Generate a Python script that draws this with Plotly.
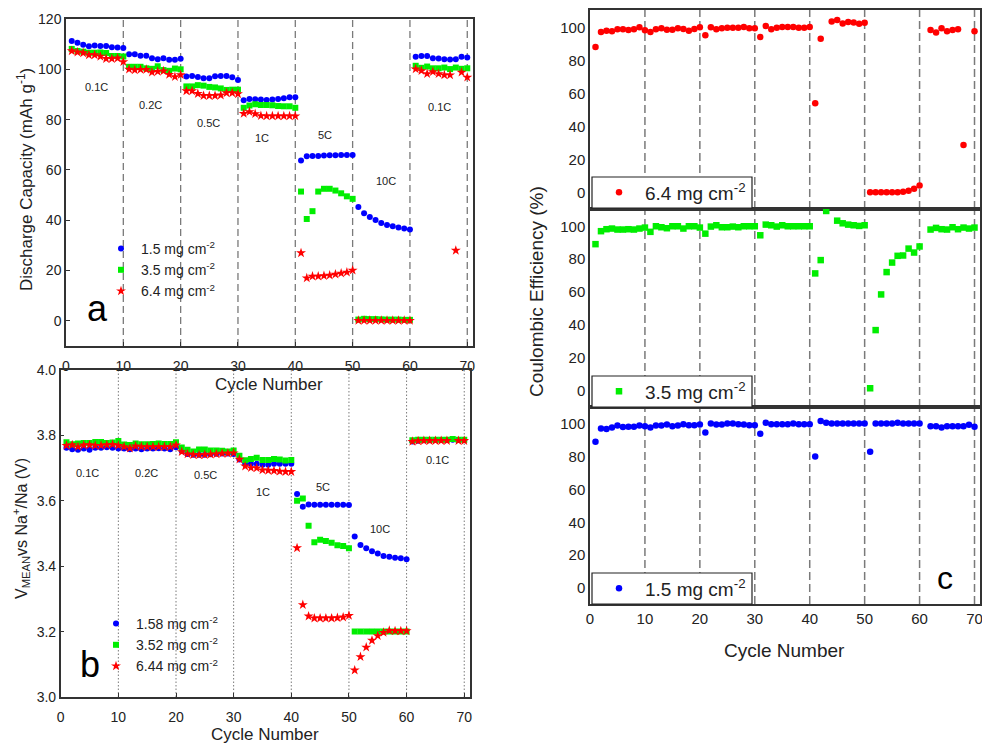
import plotly.graph_objects as go

cycles = list(range(1, 71))
boundaries = [10, 20, 30, 40, 50, 60, 70]
rate_labels = ["0.1C", "0.2C", "0.5C", "1C", "5C", "10C", "0.1C"]

# Panel a: discharge capacity (mAh g-1)
cap_15 = [111.3,110.6,109.8,109.2,109.5,109.3,109.3,108.8,108.7,108.5,
          106.0,106.0,105.4,105.4,104.4,104.0,104.4,103.8,103.8,104.2,
          97.1,97.3,96.9,96.4,96.4,97.2,97.3,97.3,96.8,95.7,
          87.7,88.2,88.1,88.0,87.8,88.0,88.2,88.5,88.9,88.9,
          63.7,65.4,65.5,65.5,65.7,65.8,65.8,65.9,65.9,65.9,
          45.3,42.8,41.3,40.1,38.9,38.1,37.6,37.1,36.7,36.3,
          105.0,105.3,105.3,104.4,104.3,104.0,103.9,104.0,105.0,104.7]
cap_35 = [108.1,107.3,107.0,106.6,106.6,106.7,106.5,105.3,105.3,105.1,
          101.0,101.0,101.0,100.4,100.2,101.2,99.7,99.4,100.3,100.0,
          93.2,93.2,93.7,93.5,93.0,92.8,92.4,91.8,91.9,91.9,
          84.7,85.6,86.1,85.8,85.8,85.7,85.4,85.3,85.3,84.7,
          51.4,40.5,43.6,51.4,52.5,52.5,51.8,50.7,49.5,48.5,
          0.5,0.8,0.7,0.7,0.6,0.5,0.5,0.5,0.4,0.4,
          101.4,100.6,101.1,100.4,100.4,100.7,100.1,100.7,100.2,100.4]
cap_64 = [107.3,106.8,106.5,105.7,105.7,105.1,104.2,104.2,104.4,103.0,
          100.0,99.7,99.9,99.9,98.8,99.1,99.3,97.9,97.0,97.8,
          91.4,91.4,90.3,89.5,89.5,89.5,89.7,90.6,90.6,90.2,
          82.4,83.1,82.3,81.5,81.4,81.4,81.4,81.4,81.4,81.4,
          27.0,17.0,17.7,17.7,17.9,18.1,18.5,18.9,19.3,20.1,
          0.1,0.1,0.1,0.1,0.1,0.1,0.1,0.1,0.1,0.1,
          100.1,99.4,98.2,99.0,98.2,97.7,97.7,28.0,98.8,96.8]

# Panel b: mean voltage (V)
v_158 = [3.762,3.758,3.756,3.760,3.756,3.762,3.762,3.764,3.762,3.760,
         3.760,3.758,3.760,3.758,3.760,3.760,3.761,3.760,3.758,3.764,
         3.752,3.743,3.741,3.741,3.741,3.742,3.744,3.745,3.745,3.743,
         3.726,3.713,3.713,3.713,3.710,3.710,3.713,3.713,3.713,3.713,
         3.621,3.582,3.589,3.588,3.588,3.588,3.588,3.588,3.588,3.587,
         3.491,3.465,3.455,3.446,3.439,3.431,3.429,3.426,3.424,3.421,
         3.781,3.784,3.785,3.785,3.786,3.786,3.786,3.787,3.786,3.786]
v_352 = [3.779,3.773,3.775,3.777,3.777,3.780,3.780,3.777,3.778,3.783,
         3.772,3.771,3.775,3.773,3.773,3.774,3.775,3.774,3.774,3.779,
         3.763,3.756,3.751,3.757,3.757,3.754,3.754,3.753,3.751,3.754,
         3.738,3.724,3.728,3.732,3.725,3.725,3.728,3.726,3.723,3.725,
         3.600,3.607,3.524,3.473,3.481,3.477,3.472,3.464,3.462,3.455,
         3.200,3.200,3.200,3.200,3.200,3.200,3.200,3.200,3.200,3.200,
         3.785,3.787,3.787,3.787,3.787,3.787,3.787,3.789,3.787,3.787]
v_644 = [3.769,3.771,3.765,3.770,3.771,3.769,3.769,3.771,3.772,3.769,
         3.765,3.761,3.767,3.765,3.765,3.765,3.765,3.765,3.765,3.770,
         3.750,3.743,3.741,3.740,3.741,3.742,3.743,3.745,3.745,3.746,
         3.727,3.706,3.701,3.700,3.694,3.693,3.692,3.690,3.689,3.689,
         3.456,3.282,3.247,3.241,3.241,3.241,3.241,3.242,3.244,3.249,
         3.082,3.123,3.152,3.173,3.187,3.197,3.203,3.202,3.202,3.202,
         3.781,3.783,3.784,3.784,3.784,3.784,3.784,None,3.784,3.784]

# Panel c: coulombic efficiency (%)
ce_64 = [88.1,97.2,98.0,97.6,98.8,98.8,98.4,98.8,100.0,98.2,
         97.2,98.8,99.4,98.6,98.6,99.4,99.0,98.0,99.0,100.0,
         95.2,100.0,98.8,99.4,99.8,99.8,99.8,100.2,99.4,99.4,
         94.1,100.8,98.8,99.8,100.2,100.2,100.2,99.8,99.8,100.2,
         54.1,93.1,None,103.6,104.4,102.4,103.2,103.0,102.2,102.8,
         0.2,0.2,0.2,0.2,0.2,0.2,0.4,1.0,2.2,4.2,
         None,98.4,96.8,99.4,97.6,98.4,98.8,28.7,None,97.6]
ce_35 = [89.1,97.0,98.2,98.6,98.0,98.0,98.2,98.0,98.6,99.2,
         96.6,100.0,99.4,98.8,100.0,100.0,98.6,100.0,100.0,99.2,
         95.5,99.8,100.6,99.4,99.4,99.8,99.4,100.0,100.0,100.0,
         94.5,101.0,100.6,99.8,100.6,100.0,100.0,100.0,100.0,100.0,
         71.3,79.4,109.3,None,103.4,101.8,101.0,100.6,100.2,100.6,
         1.4,36.8,58.5,72.1,77.9,82.0,82.2,86.4,84.0,87.7,
         None,98.0,99.0,98.2,98.0,99.4,98.2,99.2,98.6,99.2]
ce_15 = [89.3,97.4,97.0,98.0,99.2,98.2,98.4,98.4,99.2,98.8,
         98.0,99.2,99.2,99.8,98.8,99.2,100.0,99.4,99.4,99.8,
         94.9,100.4,99.8,99.8,100.4,100.4,100.0,99.8,99.4,99.4,
         94.1,100.8,100.0,100.0,100.0,100.0,100.4,100.0,100.0,100.0,
         80.2,102.0,100.8,100.4,100.4,100.4,100.4,100.4,100.4,100.4,
         83.2,100.4,100.4,100.4,100.4,100.8,100.4,100.4,100.4,100.4,
         None,98.8,98.8,98.0,98.8,98.8,98.8,98.8,99.6,98.4]

W, H = 982, 743
FONT = "Liberation Sans, Arial, sans-serif"
BLUE, GREEN, RED = "#0000FF", "#00EE00", "#FF0000"


def px(x0, x1):
    return [x0 / W, x1 / W]


def py(top, bottom):
    return [1 - bottom / H, 1 - top / H]


fig = go.Figure()

# panel a
for name, vals, sym, col, sz in [("1.5 mg cm<sup>-2</sup>", cap_15, "circle", BLUE, 6),
                                 ("3.5 mg cm<sup>-2</sup>", cap_35, "square", GREEN, 6),
                                 ("6.4 mg cm<sup>-2</sup>", cap_64, "star", RED, 7.5)]:
    fig.add_trace(go.Scatter(x=cycles, y=vals, mode="markers", name=name,
                             marker=dict(symbol=sym, color=col, size=sz, line=dict(width=0)),
                             xaxis="x", yaxis="y", legend="legend"))
# panel b
for name, vals, sym, col, sz in [("1.58 mg cm<sup>-2</sup>", v_158, "circle", BLUE, 6),
                                 ("3.52 mg cm<sup>-2</sup>", v_352, "square", GREEN, 6),
                                 ("6.44 mg cm<sup>-2</sup>", v_644, "star", RED, 7.5)]:
    fig.add_trace(go.Scatter(x=cycles, y=vals, mode="markers", name=name,
                             marker=dict(symbol=sym, color=col, size=sz, line=dict(width=0)),
                             xaxis="x2", yaxis="y2", legend="legend2"))
# panel c
for name, vals, sym, col, ax, lg in [("6.4 mg cm<sup>-2</sup>", ce_64, "circle", RED, "3", "legend3"),
                                     ("3.5 mg cm<sup>-2</sup>", ce_35, "square", GREEN, "4", "legend4"),
                                     ("1.5 mg cm<sup>-2</sup>", ce_15, "circle", BLUE, "5", "legend5")]:
    fig.add_trace(go.Scatter(x=cycles, y=vals, mode="markers", name=name,
                             marker=dict(symbol=sym, color=col, size=6.5, line=dict(width=0)),
                             xaxis="x" + ax, yaxis="y" + ax, legend=lg, cliponaxis=False))

axis_common = dict(showline=True, mirror=True, linecolor="#333", linewidth=1.5,
                   showgrid=False, zeroline=False, ticks="inside", ticklen=4,
                   tickcolor="#333", ticklabeloverflow="allow",
                   tickfont=dict(family=FONT, size=14, color="#222"))

cx = px(590, 980)
layout = dict(
    width=W, height=H, margin=dict(l=0, r=0, t=0, b=0, autoexpand=False),
    paper_bgcolor="white", plot_bgcolor="white", font=dict(family=FONT, color="#222"),
    xaxis=dict(domain=px(66, 473), range=[0, 71], tickvals=list(range(0, 71, 10)),
               anchor="y", ticklabelstandoff=6, **axis_common),
    yaxis=dict(domain=py(19, 346), range=[-10, 120], tickvals=list(range(0, 121, 20)),
               anchor="x", **axis_common),
    xaxis2=dict(domain=px(60.7, 470), range=[0, 71], tickvals=list(range(0, 71, 10)),
                anchor="y2", ticklabelstandoff=6, **axis_common),
    yaxis2=dict(domain=py(370, 697), range=[3.0, 4.0], tickvals=[3.0, 3.2, 3.4, 3.6, 3.8, 4.0],
                tickformat=".1f", anchor="x2", **axis_common),
)
c_axis = dict(axis_common)
c_axis["tickfont"] = dict(family=FONT, size=15, color="#222")
c_axis["ticks"] = ""
for i, (top, bot) in zip(["3", "4", "5"], [(10, 209), (209, 407), (407, 604)]):
    layout["xaxis" + i] = dict(domain=cx, range=[0, 71], tickvals=list(range(0, 71, 10)),
                               showticklabels=(i == "5"), anchor="y" + i, **c_axis)
    layout["yaxis" + i] = dict(domain=py(top, bot), range=[-10, 110.5],
                               tickvals=list(range(0, 101, 20)), anchor="x" + i, **c_axis)

# legends
leg_a = dict(font=dict(family=FONT, size=14, color="#222"), bgcolor="rgba(0,0,0,0)",
             borderwidth=0, xanchor="left", yanchor="top", tracegroupgap=0)
layout["legend"] = dict(x=101 / W, y=1 - 233 / H, **leg_a)
layout["legend2"] = dict(x=96 / W, y=1 - 608 / H, **leg_a)
leg_c = dict(font=dict(family=FONT, size=19, color="#222"), bgcolor="rgba(0,0,0,0)",
             borderwidth=0, xanchor="left", yanchor="middle", itemwidth=42)
boxes_c = [(177, 208), (376, 407), (573, 604)]
for lg, (bt, bb) in zip(["legend3", "legend4", "legend5"], boxes_c):
    layout[lg] = dict(x=593 / W, y=1 - (bt + bb) / 2 / H, **leg_c)

# dashed cycle separators
shapes = []
for xv in boundaries:
    shapes.append(dict(type="line", xref="x", yref="y domain", x0=xv, x1=xv, y0=0, y1=1,
                       line=dict(color="#7a7a7a", width=1.3, dash="7px,4px"), layer="below"))
    shapes.append(dict(type="line", xref="x2", yref="y2 domain", x0=xv, x1=xv, y0=0, y1=1,
                       line=dict(color="#7a7a7a", width=1, dash="1.5px,2px"), layer="below"))
    for i in ["3", "4", "5"]:
        shapes.append(dict(type="line", xref="x" + i, yref="y" + i + " domain", x0=xv, x1=xv,
                           y0=0, y1=1, line=dict(color="#7a7a7a", width=1.5, dash="8px,4px"),
                           layer="below"))
# boxed legend frames of panel c
for bt, bb in boxes_c:
    shapes.append(dict(type="rect", xref="paper", yref="paper", x0=592 / W, x1=752 / W,
                       y0=1 - bb / H, y1=1 - bt / H, fillcolor="white",
                       line=dict(color="#222", width=1.2), layer="above"))
layout["shapes"] = shapes

ann = []
small = dict(family=FONT, size=11, color="#222")
pos_a = [(5.4, 93), (14.7, 86), (24.9, 78.8), (34.2, 72.5), (45.2, 73.7), (55.8, 55.5), (65.1, 85.2)]
pos_b = [(4.7, 3.685), (14.8, 3.685), (25.1, 3.679), (35.1, 3.627), (45.5, 3.642), (55.4, 3.514), (65.3, 3.725)]
C = dict(xanchor="center", yanchor="middle", showarrow=False)
for lab, (xa, ya), (xb, yb) in zip(rate_labels, pos_a, pos_b):
    ann.append(dict(text=lab, x=xa, y=ya, xref="x", yref="y", font=small, **C))
    ann.append(dict(text=lab, x=xb, y=yb, xref="x2", yref="y2", font=small, **C))

title_a = dict(family=FONT, size=17, color="#222")
title_c = dict(family=FONT, size=19, color="#222")
P = dict(xref="paper", yref="paper", **C)
ann += [
    dict(text="Cycle Number", x=269 / W, y=1 - 384 / H, font=title_a, **P),
    dict(text="Cycle Number", x=265 / W, y=1 - 734 / H, font=title_a, **P),
    dict(text="Cycle Number", x=784 / W, y=1 - 650 / H, font=title_c, **P),
    dict(text="Discharge Capacity (mAh g<sup>-1</sup>)", x=25 / W, y=1 - 180 / H,
         textangle=-90, font=title_a, **P),
    dict(text="V<sub>MEAN</sub>vs Na<sup>+</sup>/Na (V)", x=21 / W, y=1 - 529 / H,
         textangle=-90, font=dict(family=FONT, size=16, color="#222"), **P),
    dict(text="Coulombic Efficiency (%)", x=537 / W, y=1 - 292 / H,
         textangle=-90, font=title_c, **P),
    dict(text="a", x=97 / W, y=1 - 308 / H, font=dict(family=FONT, size=36, color="black"), **P),
    dict(text="b", x=90 / W, y=1 - 664 / H, font=dict(family=FONT, size=36, color="black"), **P),
    dict(text="c", x=945 / W, y=1 - 578 / H, font=dict(family=FONT, size=32, color="black"), **P),
]
layout["annotations"] = ann

fig.update_layout(**layout)
fig.write_html("out.html", config={"displayModeBar": False},
               post_script="document.body.style.margin='0';document.body.style.padding='0';")
